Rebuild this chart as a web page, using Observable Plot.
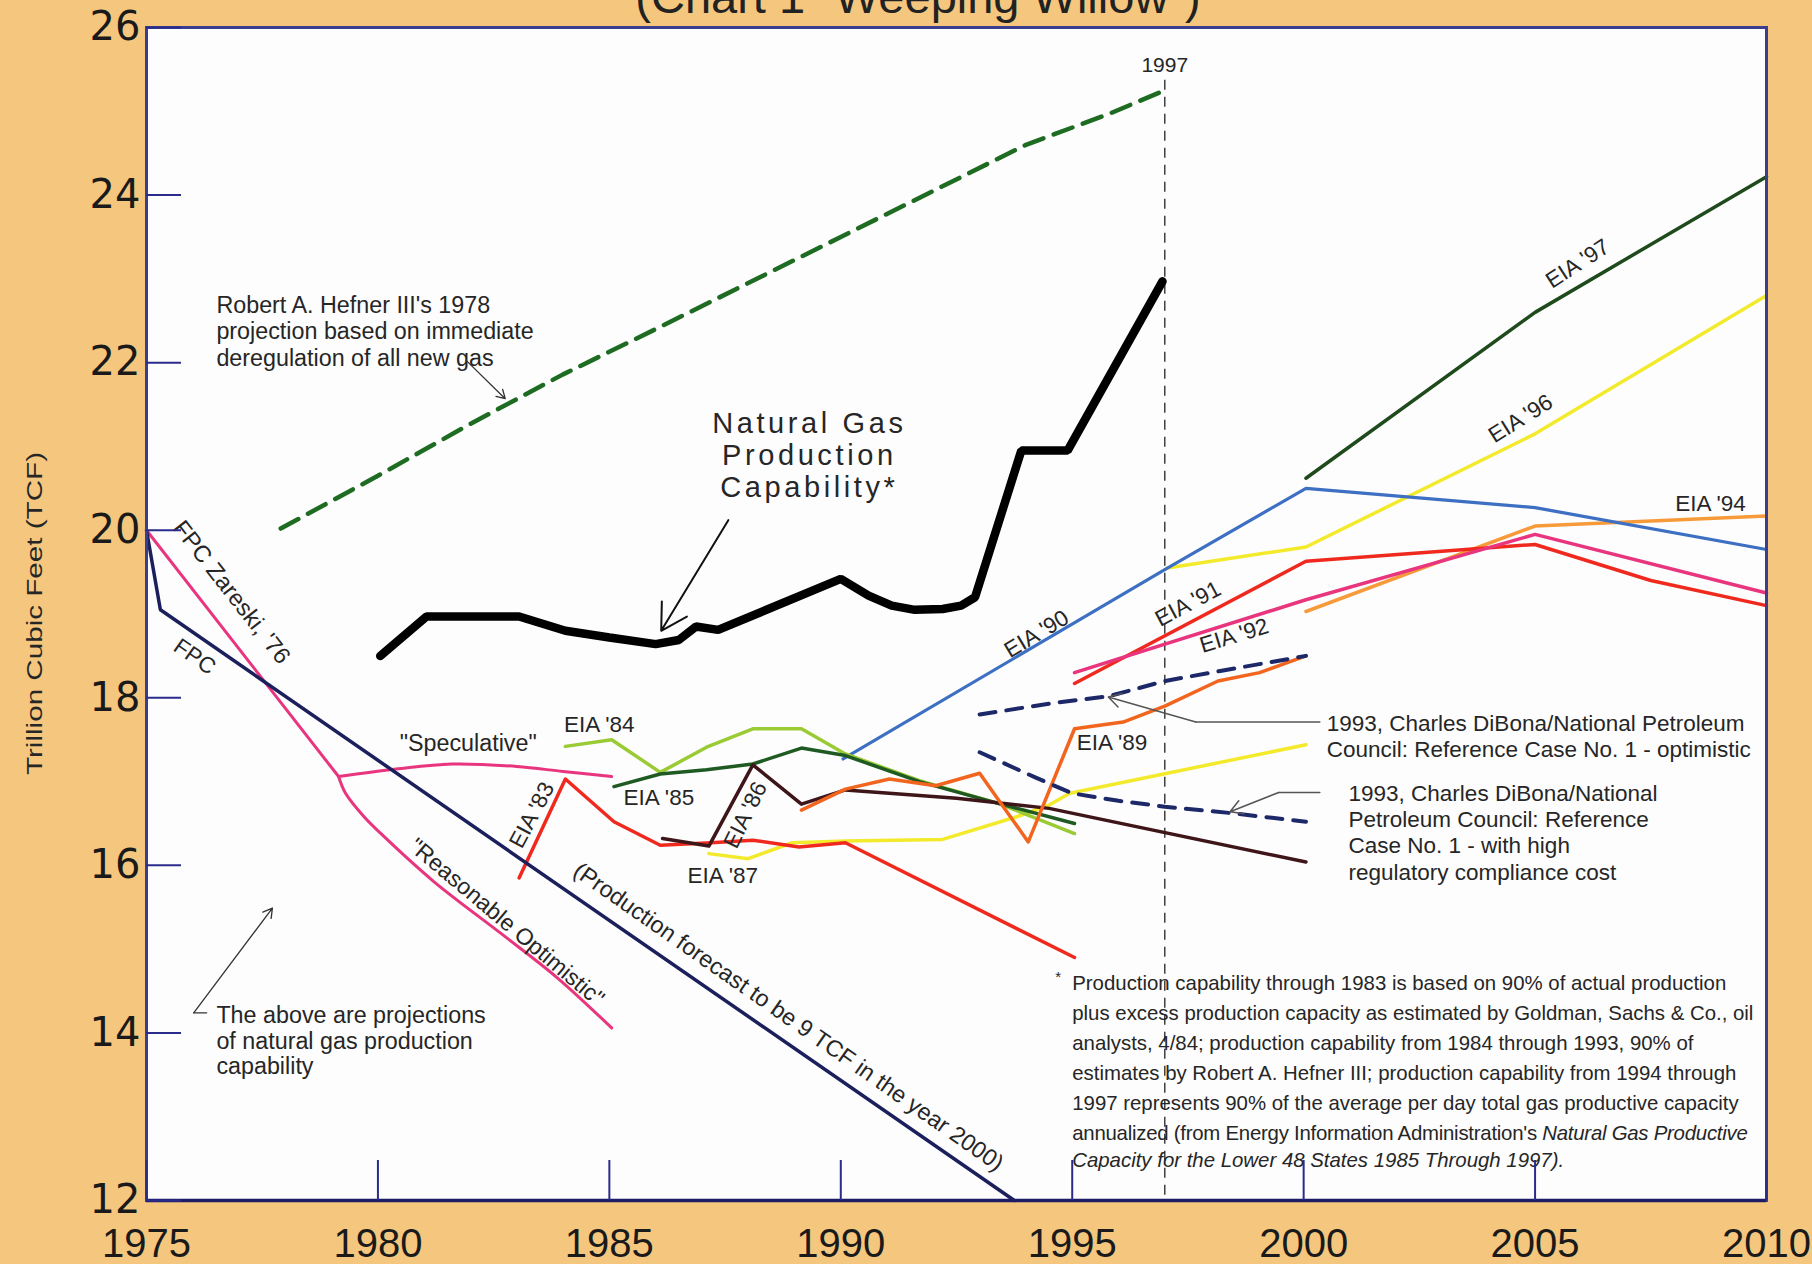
<!DOCTYPE html>
<html><head><meta charset="utf-8">
<script src="https://cdn.jsdelivr.net/npm/d3@7"></script>
<script src="https://cdn.jsdelivr.net/npm/@observablehq/plot@0.6"></script>
<style>
html,body{margin:0;padding:0;background:#f5c77e;overflow:hidden;}
#wrap{position:relative;width:1812px;height:1264px;overflow:hidden;}
#title{position:absolute;left:12px;width:1812px;top:-27px;text-align:center;font:47px "Liberation Sans",Arial,sans-serif;color:#222;line-height:47px;white-space:nowrap;}
#chart{position:absolute;left:0;top:0;}
</style></head>
<body>
<div id="wrap"><div id="chart"></div><div id="title">(Chart 1 "Weeping Willow")</div></div>
<script>
// ---- axis ticks ----
const xTicks = [1975, 1980, 1985, 1990, 1995, 2000, 2005, 2010];
const yTicks = [12, 14, 16, 18, 20, 22, 24, 26];
const markerYear = 1997;

// ---- series (year, trillion cubic feet) ----
const hefnerYear = [1977.9, 1980, 1982, 1984, 1986, 1988, 1990, 1992, 1994, 1995.8, 1997];
const hefnerTcf  = [20.02, 20.65, 21.27, 21.86, 22.4, 22.95, 23.5, 24.05, 24.6, 24.97, 25.25];

const capYear = [1980.05, 1981.05, 1983.05, 1984.05, 1985.0, 1986.0, 1986.5, 1986.87, 1987.35, 1990.0, 1990.6, 1991.1, 1991.6, 1992.2, 1992.6, 1992.9, 1993.9, 1994.9, 1996.95];
const capTcf  = [18.5, 18.97, 18.97, 18.8, 18.72, 18.64, 18.69, 18.85, 18.81, 19.42, 19.22, 19.1, 19.05, 19.06, 19.1, 19.2, 20.95, 20.95, 22.97];

const fpcYear = [1975, 1975.3, 1993.75];
const fpcTcf  = [20.0, 19.05, 12.0];

const zareskiYear = [1975, 1979.15];
const zareskiTcf  = [20.0, 17.06];

const specYear = [1979.15, 1980.4, 1981.6, 1983.0, 1984.0, 1985.05];
const specTcf  = [17.06, 17.15, 17.21, 17.18, 17.12, 17.06];

const reasOptYear = [1979.15, 1979.3, 1979.7, 1980.1, 1981.2, 1982.7, 1983.85, 1985.05];
const reasOptTcf  = [17.06, 16.86, 16.58, 16.36, 15.81, 15.17, 14.67, 14.06];

const eia83Year = [1983.05, 1984.05, 1985.1, 1986.1, 1987.2, 1988.1, 1989.1, 1990.1, 1995.05];
const eia83Tcf  = [15.85, 17.03, 16.52, 16.24, 16.27, 16.3, 16.22, 16.27, 14.9];

const eia84Year = [1984.05, 1985.05, 1986.1, 1987.1, 1988.1, 1989.15, 1990.1, 1991.7, 1993.4, 1995.05];
const eia84Tcf  = [17.42, 17.5, 17.11, 17.41, 17.63, 17.63, 17.33, 17.01, 16.74, 16.38];

const eia85Year = [1985.1, 1986.1, 1987.1, 1988.1, 1989.15, 1990.1, 1991.7, 1993.4, 1995.05];
const eia85Tcf  = [16.94, 17.09, 17.14, 17.21, 17.4, 17.31, 17.0, 16.74, 16.5];

const eia86Year = [1986.15, 1987.15, 1988.1, 1989.15, 1990.1, 1992.5, 1994.5, 2000.05];
const eia86Tcf  = [16.32, 16.23, 17.2, 16.73, 16.9, 16.8, 16.68, 16.04];

const eia87Year = [1987.15, 1988.0, 1988.95, 1990.1, 1992.2, 1993.8, 1994.5, 1994.95, 2000.05];
const eia87Tcf  = [16.14, 16.08, 16.27, 16.29, 16.31, 16.58, 16.72, 16.86, 17.44];

const eia89Year = [1989.15, 1990.1, 1991.05, 1992.05, 1993.0, 1994.05, 1995.05, 1996.1, 1997.0, 1998.15, 1999.05, 2000.05];
const eia89Tcf  = [16.66, 16.91, 17.03, 16.95, 17.1, 16.28, 17.63, 17.71, 17.9, 18.2, 18.3, 18.5];

const eia90Year = [1990.05, 1997.0, 2000.05, 2005.0, 2010];
const eia90Tcf  = [17.27, 19.53, 20.5, 20.27, 19.77];

const eia91Year = [1995.05, 2000.05, 2003.5, 2005.0, 2007.5, 2010];
const eia91Tcf  = [18.17, 19.63, 19.77, 19.83, 19.4, 19.1];

const eia92Year = [1995.05, 2000.05, 2005.0, 2010];
const eia92Tcf  = [18.3, 19.17, 19.95, 19.25];

const eia94Year = [2000.05, 2005.0, 2010];
const eia94Tcf  = [19.03, 20.05, 20.17];

const eia96Year = [1997.05, 2000.05, 2005.0, 2010];
const eia96Tcf  = [19.55, 19.8, 21.15, 22.8];

const eia97Year = [2000.05, 2005.0, 2010];
const eia97Tcf  = [20.62, 22.6, 24.22];

const dibonaOptYear = [1993.0, 1994.5, 1995.8, 1997.0, 1998.2, 2000.05];
const dibonaOptTcf  = [17.8, 17.93, 18.02, 18.2, 18.32, 18.5];

const dibonaHighYear = [1993.0, 1994.2, 1995.0, 1996.0, 1997.0, 1998.5, 2000.05];
const dibonaHighTcf  = [17.35, 17.05, 16.86, 16.77, 16.7, 16.62, 16.52];

// ---- text ----
const footLines = [
  "Production capability through 1983 is based on 90% of actual production",
  "plus excess production capacity as estimated by Goldman, Sachs & Co., oil",
  "analysts, 4/84; production capability from 1984 through 1993, 90% of",
  "estimates by Robert A. Hefner III; production capability from 1994 through",
  "1997 represents 90% of the average per day total gas productive capacity",
  "annualized (from Energy Information Administration's"
];
const footItalic6 = "Natural Gas Productive";
const footItalic7 = "Capacity for the Lower 48 States 1985 Through 1997).";

const rows = (xs, ys) => xs.map((x, i) => ({year: x, tcf: ys[i]}));
const ln = (xs, ys, o) => Plot.line(rows(xs, ys), {x: "year", y: "tcf", strokeLinejoin: "round", ...o});
const FONT = "Liberation Sans, Arial, Helvetica, sans-serif";
const INK = "#262626";
const LS = 22.5; // label size
const txt = (t, x, y, o = {}) => Plot.text([t], {x: () => x, y: () => y, text: d => d, fill: INK, fontSize: LS, ...o});

const chart = Plot.plot({
  width: 1812, height: 1264,
  marginLeft: 146, marginRight: 46, marginTop: 27, marginBottom: 64,
  x: {domain: [1975, 2010], label: null},
  y: {domain: [12, 26], label: null},
  style: {background: "transparent", fontFamily: FONT, overflow: "visible"},
  marks: [
    Plot.frame({fill: "#fdfdfd", stroke: null}),
    Plot.ruleX([markerYear], {y1: 25.37, y2: 12, stroke: "#333", strokeWidth: 1.4, strokeDasharray: "10,7"}),
    ln(eia97Year, eia97Tcf, {stroke: "#1f4a1c", strokeWidth: 3.5}),
    ln(eia96Year, eia96Tcf, {stroke: "#f3ea2c", strokeWidth: 3.5}),
    ln(eia94Year, eia94Tcf, {stroke: "#f79a3a", strokeWidth: 3.5}),
    ln(eia90Year, eia90Tcf, {stroke: "#3d6fc2", strokeWidth: 3.2}),
    ln(eia91Year, eia91Tcf, {stroke: "#f0291f", strokeWidth: 3.5}),
    ln(eia92Year, eia92Tcf, {stroke: "#e8357e", strokeWidth: 3.5}),
    ln(eia87Year, eia87Tcf, {stroke: "#f3ea2c", strokeWidth: 3.5}),
    ln(eia83Year, eia83Tcf, {stroke: "#f0291f", strokeWidth: 3.5}),
    ln(eia84Year, eia84Tcf, {stroke: "#9acb35", strokeWidth: 3.5}),
    ln(eia85Year, eia85Tcf, {stroke: "#1f5a22", strokeWidth: 3.5}),
    ln(eia86Year, eia86Tcf, {stroke: "#3e1518", strokeWidth: 3.5}),
    ln(eia89Year, eia89Tcf, {stroke: "#f2651f", strokeWidth: 3.5}),
    ln(dibonaOptYear, dibonaOptTcf, {stroke: "#1c2868", strokeWidth: 4, strokeDasharray: "16,11"}),
    ln(dibonaHighYear, dibonaHighTcf, {stroke: "#1c2868", strokeWidth: 4, strokeDasharray: "16,11"}),
    ln(zareskiYear, zareskiTcf, {stroke: "#e8357e", strokeWidth: 3}),
    ln(specYear, specTcf, {stroke: "#e8357e", strokeWidth: 3, curve: "catmull-rom"}),
    ln(reasOptYear, reasOptTcf, {stroke: "#e8357e", strokeWidth: 3, curve: "catmull-rom"}),
    ln(fpcYear, fpcTcf, {stroke: "#1b1f5c", strokeWidth: 3.5, strokeLinejoin: "miter"}),
    ln(hefnerYear, hefnerTcf, {stroke: "#1e6b22", strokeWidth: 4.5, strokeDasharray: "20,11", strokeLinejoin: "miter"}),
    ln(capYear, capTcf, {stroke: "#000", strokeWidth: 8.5, strokeLinejoin: "miter"}),

    // annotations
    txt("1997", 1997, 25.55, {fontSize: 21}),
    txt("Robert A. Hefner III's 1978\nprojection based on immediate\nderegulation of all new gas", 1976.51, 22.38, {textAnchor: "start", fontSize: 23.3, lineHeight: 1.14}),
    Plot.arrow([0], {x1: () => 1981.9, y1: () => 22.03, x2: () => 1982.75, y2: () => 21.57, stroke: "#333", strokeWidth: 1.3, headLength: 11}),
    txt("Natural Gas\nProduction\nCapability*", 1989.32, 20.9, {fontSize: 29, lineHeight: 1.115, className: "ngpc"}),
    Plot.arrow([0], {x1: () => 1987.57, y1: () => 20.12, x2: () => 1986.12, y2: () => 18.8, stroke: "#111", strokeWidth: 2, headLength: 22}),
    txt("FPC Zareski, '76", 1976.84, 19.26, {rotate: 52, fontSize: 23.5}),
    txt("FPC", 1976.04, 18.49, {rotate: 35, fontSize: 22.5}),
    txt("\"Speculative\"", 1981.95, 17.45, {fontSize: 23.3}),
    txt("\"Reasonable Optimistic\"", 1982.78, 15.32, {rotate: 40, fontSize: 23}),
    txt("(Production forecast to be 9 TCF in the year 2000)", 1988.87, 14.19, {rotate: 35, fontSize: 23.3}),
    txt("EIA '83", 1983.33, 16.6, {rotate: -62}),
    txt("EIA '84", 1984.78, 17.68),
    txt("EIA '85", 1986.07, 16.81),
    txt("EIA '86", 1987.94, 16.6, {rotate: -64}),
    txt("EIA '87", 1987.45, 15.87),
    txt("EIA '89", 1995.86, 17.46),
    txt("EIA '90", 1994.23, 18.76, {rotate: -31}),
    txt("EIA '91", 1997.5, 19.12, {rotate: -28}),
    txt("EIA '92", 1998.5, 18.74, {rotate: -17}),
    txt("EIA '97", 2005.92, 23.18, {rotate: -33}),
    txt("EIA '96", 2004.69, 21.33, {rotate: -32}),
    txt("EIA '94", 2008.79, 20.31),
    txt("1993, Charles DiBona/National Petroleum\nCouncil: Reference Case No. 1 - optimistic", 2000.5, 17.55, {textAnchor: "start", fontSize: 22.5, lineHeight: 1.18}),
    txt("1993, Charles DiBona/National\nPetroleum Council: Reference\nCase No. 1 - with high\nregulatory compliance cost", 2000.97, 16.4, {textAnchor: "start", fontSize: 22.5, lineHeight: 1.17}),
    Plot.line([[2000.35, 17.71], [1997.67, 17.71]], {stroke: "#555", strokeWidth: 1.5}),
    Plot.arrow([0], {x1: () => 1997.67, y1: () => 17.71, x2: () => 1995.78, y2: () => 18.01, stroke: "#555", strokeWidth: 1.5, headLength: 14}),
    Plot.line([[2000.35, 16.87], [1999.46, 16.87]], {stroke: "#555", strokeWidth: 1.5}),
    Plot.arrow([0], {x1: () => 1999.46, y1: () => 16.87, x2: () => 1998.41, y2: () => 16.64, stroke: "#555", strokeWidth: 1.5, headLength: 14}),
    txt("The above are projections\nof natural gas production\ncapability", 1976.51, 13.91, {textAnchor: "start", fontSize: 23.3, lineHeight: 1.09}),
    Plot.line([[1976.3, 14.24], [1976.02, 14.24]], {stroke: "#333", strokeWidth: 1.3}),
    Plot.arrow([0], {x1: () => 1976.02, y1: () => 14.24, x2: () => 1977.72, y2: () => 15.49, stroke: "#333", strokeWidth: 1.3, headLength: 12}),

    // footnote
    txt("*", 1994.76, 14.66, {fontSize: 15, textAnchor: "end"}),
    txt(footLines.join("\n"), 1995.0, 13.733, {textAnchor: "start", fontSize: 20.4, lineHeight: 30 / 20.4, className: "foot"}),
    txt(footItalic7, 1995.0, 12.48, {textAnchor: "start", fontSize: 20.4, fontStyle: "italic"}),

    // y-axis title
    Plot.text(["Trillion Cubic Feet (TCF)"], {frameAnchor: "left", dx: -111, dy: 161, rotate: -90, textAnchor: "start", text: d => d, fontSize: 21.5, fill: INK, className: "ylab"}),

    Plot.frame({stroke: "#3d3d90", strokeWidth: 3}),
    Plot.ruleY([12], {stroke: "#1d1d66", strokeWidth: 3.5}),
    Plot.axisY({ticks: yTicks, tickSize: -35, tickPadding: 41, stroke: "#2b2b8c", strokeWidth: 2, fill: "#1a1a1a", fontSize: 40, fontFamily: "DejaVu Sans, Verdana, sans-serif", tickFormat: d => String(d), label: null}),
    Plot.axisX({ticks: xTicks, tickSize: -40, tickPadding: 68, stroke: "#2b2b8c", strokeWidth: 2, fill: "#1a1a1a", fontSize: 40, tickFormat: d => String(d), label: null})
  ]
});

d3.select(chart).selectAll("g.ylab text").attr("textLength", 323).attr("lengthAdjust", "spacingAndGlyphs");
d3.select(chart).selectAll("g.ngpc text").style("letter-spacing", "3.6px");
// italic continuation on the sixth footnote line (slightly tightened to fit the frame)
d3.select(chart).selectAll("g.foot text").each(function() {
  const spans = this.querySelectorAll("tspan");
  const last = spans[spans.length - 1];
  if (last) {
    d3.select(last).style("letter-spacing", "-0.25px");
    d3.select(last).append("tspan").style("font-style", "italic").text(" " + footItalic6);
  }
});
document.getElementById("chart").appendChild(chart);
</script>
</body></html>
